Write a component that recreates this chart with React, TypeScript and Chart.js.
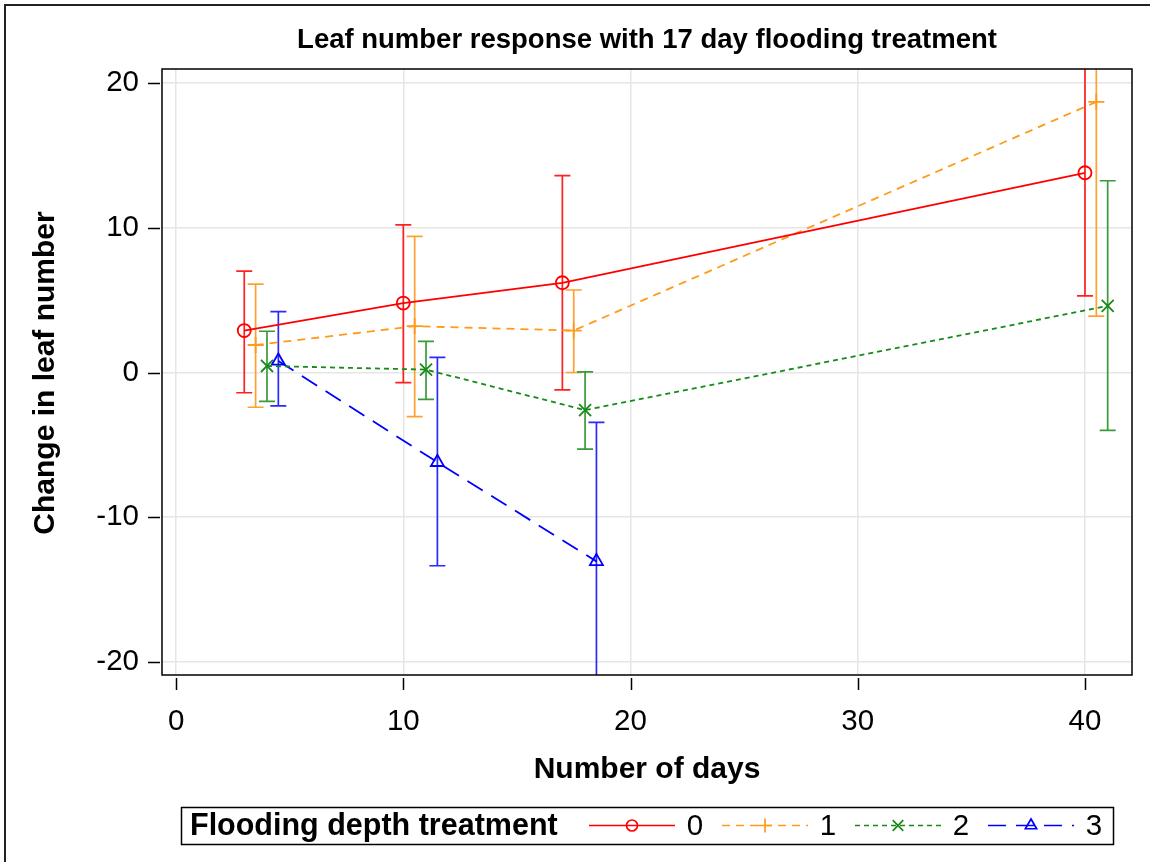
import React, { useEffect, useRef } from 'react';
import { Chart, registerables } from 'chart.js';

Chart.register(...registerables);

// ---------- data ----------
const chartTitle = 'Leaf number response with 17 day flooding treatment';
const xAxisTitle = 'Number of days';
const yAxisTitle = 'Change in leaf number';
const legendTitle = 'Flooding depth treatment';
const seriesNames = ['0', '1', '2', '3'];

const xTicks = [0, 10, 20, 30, 40];
const yTicks = [-20, -10, 0, 10, 20];

const days0 = [3, 10, 17, 40];
const mean0 = [2.9, 4.8, 6.2, 13.8];
const low0 = [-1.4, -0.7, -1.2, 5.3];
const high0 = [7.0, 10.2, 13.6, 22.5];

const days1 = [3.5, 10.5, 17.5, 40.5];
const mean1 = [1.9, 3.2, 2.9, 18.7];
const low1 = [-2.4, -3.05, 0.0, 3.9];
const high1 = [6.1, 9.4, 5.7, 22.5];

const days2 = [4, 11, 18, 41];
const mean2 = [0.45, 0.2, -2.6, 4.6];
const low2 = [-2.0, -1.85, -5.3, -4.0];
const high2 = [2.85, 2.15, 0.05, 13.25];

const days3 = [4.5, 11.5, 18.5];
const mean3 = [0.8, -6.2, -13.05];
const low3 = [-2.3, -13.35, -22.5];
const high3 = [4.2, 1.05, -3.45];

const seriesDays = [days0, days1, days2, days3];
const seriesMean = [mean0, mean1, mean2, mean3];
const seriesLow = [low0, low1, low2, low3];
const seriesHigh = [high0, high1, high2, high3];

// ---------- styles ----------
const FONT = '"Liberation Sans", Arial, Helvetica, sans-serif';
const colors = ['#ff0000', '#ff9a1a', '#178a17', '#0000ff'];
const errColors = ['#ff2020', '#ffa030', '#3a9a3a', '#2a2aff'];
const dashes: number[][] = [[], [8, 6], [5, 4], [18, 10]];
const pointStyles = ['circle', 'cross', 'crossRot', 'triangle'];
const pointRadii = [6.5, 8, 8.5, 7.5];

function drawMarker(ctx: CanvasRenderingContext2D, style: string, x: number, y: number, r: number) {
  ctx.beginPath();
  if (style === 'circle') {
    ctx.arc(x, y, r, 0, Math.PI * 2);
  } else if (style === 'cross') {
    ctx.moveTo(x - r, y); ctx.lineTo(x + r, y);
    ctx.moveTo(x, y - r); ctx.lineTo(x, y + r);
  } else if (style === 'crossRot') {
    const d = r * Math.SQRT1_2;
    ctx.moveTo(x - d, y - d); ctx.lineTo(x + d, y + d);
    ctx.moveTo(x - d, y + d); ctx.lineTo(x + d, y - d);
  } else if (style === 'triangle') {
    const s = Math.sin(Math.PI / 3) * r;
    ctx.moveTo(x, y - r);
    ctx.lineTo(x + s, y + r / 2);
    ctx.lineTo(x - s, y + r / 2);
    ctx.closePath();
  }
  ctx.stroke();
}

const decorPlugin = {
  id: 'decor',
  beforeDatasetsDraw(chart: any) {
    const { ctx, chartArea: a, scales } = chart;
    const xs = scales.x;
    const ys = scales.y;
    ctx.save();
    ctx.beginPath();
    ctx.rect(a.left, a.top, a.right - a.left, a.bottom - a.top);
    ctx.clip();
    ctx.setLineDash([]);
    ctx.lineWidth = 1.7;
    seriesDays.forEach((days, i) => {
      ctx.strokeStyle = errColors[i];
      days.forEach((d, j) => {
        const px = xs.getPixelForValue(d);
        const pl = ys.getPixelForValue(seriesLow[i][j]);
        const ph = ys.getPixelForValue(seriesHigh[i][j]);
        ctx.beginPath();
        ctx.moveTo(px, pl); ctx.lineTo(px, ph);
        ctx.moveTo(px - 8, pl); ctx.lineTo(px + 8, pl);
        ctx.moveTo(px - 8, ph); ctx.lineTo(px + 8, ph);
        ctx.stroke();
      });
    });
    ctx.restore();
  },
  afterDraw(chart: any) {
    const { ctx, chartArea: a, scales, width, height } = chart;
    const xs = scales.x;
    const ys = scales.y;
    ctx.save();
    ctx.setLineDash([]);

    // page border (left and top)
    ctx.strokeStyle = '#222';
    ctx.lineWidth = 2;
    ctx.beginPath();
    ctx.moveTo(5, height);
    ctx.lineTo(5, 5);
    ctx.lineTo(width, 5);
    ctx.stroke();

    // plot frame
    ctx.strokeStyle = '#000';
    ctx.lineWidth = 1.5;
    ctx.strokeRect(a.left, a.top, a.right - a.left, a.bottom - a.top);

    // tick marks
    ctx.beginPath();
    xTicks.forEach((v) => {
      const px = Math.round(xs.getPixelForValue(v)) + 0.5;
      ctx.moveTo(px, a.bottom + 3);
      ctx.lineTo(px, a.bottom + 15);
    });
    yTicks.forEach((v) => {
      const py = Math.round(ys.getPixelForValue(v)) + 0.5;
      ctx.moveTo(a.left - 2, py);
      ctx.lineTo(a.left - 14, py);
    });
    ctx.stroke();

    // titles
    ctx.fillStyle = '#000';
    ctx.textAlign = 'center';
    ctx.textBaseline = 'middle';
    ctx.font = `bold 27.5px ${FONT}`;
    ctx.fillText(chartTitle, 647, 40);
    ctx.font = `bold 30px ${FONT}`;
    ctx.fillText(xAxisTitle, 647, 770);
    ctx.save();
    ctx.translate(46, 373);
    ctx.rotate(-Math.PI / 2);
    ctx.fillText(yAxisTitle, 0, 0);
    ctx.restore();

    // legend
    const lx0 = 181, lx1 = 1113, ly0 = 807, ly1 = 844;
    const cy = (ly0 + ly1) / 2;
    ctx.strokeStyle = '#000';
    ctx.lineWidth = 1.5;
    ctx.strokeRect(lx0 + 0.5, ly0 + 0.5, lx1 - lx0, ly1 - ly0);
    ctx.textAlign = 'left';
    ctx.font = `bold 30.5px ${FONT}`;
    ctx.fillText(legendTitle, 190, cy + 1);
    seriesNames.forEach((name, i) => {
      const sx = 589 + i * 133;
      ctx.strokeStyle = colors[i];
      ctx.lineWidth = 1.7;
      ctx.setLineDash(dashes[i]);
      ctx.beginPath();
      ctx.moveTo(sx, cy);
      ctx.lineTo(sx + 86, cy);
      ctx.stroke();
      ctx.setLineDash([]);
      drawMarker(ctx, pointStyles[i], sx + 43, cy, pointRadii[i] - 1);
      ctx.fillStyle = '#000';
      ctx.textAlign = 'center';
      ctx.font = `29.5px ${FONT}`;
      ctx.fillText(name, sx + 106, cy + 1);
    });
    ctx.restore();
  },
};

export default function App() {
  const canvasRef = useRef<HTMLCanvasElement | null>(null);

  useEffect(() => {
    const canvas = canvasRef.current;
    if (!canvas) return;
    const datasets = seriesNames.map((name, i) => ({
      label: name,
      data: seriesDays[i].map((d, j) => ({ x: d, y: seriesMean[i][j] })),
      showLine: true,
      borderColor: colors[i],
      backgroundColor: 'rgba(0,0,0,0)',
      borderWidth: 1.8,
      borderDash: dashes[i],
      pointStyle: pointStyles[i],
      pointRadius: pointRadii[i],
      pointBorderWidth: 1.8,
      pointBorderColor: colors[i],
      pointBackgroundColor: 'rgba(0,0,0,0)',
      tension: 0,
      fill: false,
    }));

    const chart = new Chart(canvas, {
      type: 'scatter',
      data: { datasets },
      options: {
        responsive: false,
        animation: false,
        devicePixelRatio: 1,
        layout: { padding: { left: 0, right: 18, top: 69, bottom: 87 } },
        plugins: {
          legend: { display: false },
          title: { display: false },
          tooltip: { enabled: false },
        },
        scales: {
          x: {
            type: 'linear',
            min: -0.62,
            max: 42.07,
            afterBuildTicks: (s: any) => { s.ticks = xTicks.map((v) => ({ value: v })); },
            afterFit: (s: any) => { s.height = 100; },
            grid: { color: '#e6e6e6', lineWidth: 1.5, drawTicks: false },
            border: { display: false },
            ticks: { color: '#000', font: { family: FONT, size: 29.5 }, padding: 29, maxRotation: 0, autoSkip: false },
          },
          y: {
            type: 'linear',
            min: -20.9,
            max: 20.97,
            afterBuildTicks: (s: any) => { s.ticks = yTicks.map((v) => ({ value: v })); },
            afterFit: (s: any) => { s.width = 162; },
            grid: { color: '#e6e6e6', lineWidth: 1.5, drawTicks: false },
            border: { display: false },
            ticks: { color: '#000', font: { family: FONT, size: 29.5 }, padding: 23, autoSkip: false },
          },
        },
      },
      plugins: [decorPlugin],
    } as any);

    return () => chart.destroy();
  }, []);

  return (
    <div style={{ position: 'absolute', left: 0, top: 0, width: 1150, height: 862, background: '#fff' }}>
      <canvas ref={canvasRef} width={1150} height={862} style={{ display: 'block' }} />
    </div>
  );
}
